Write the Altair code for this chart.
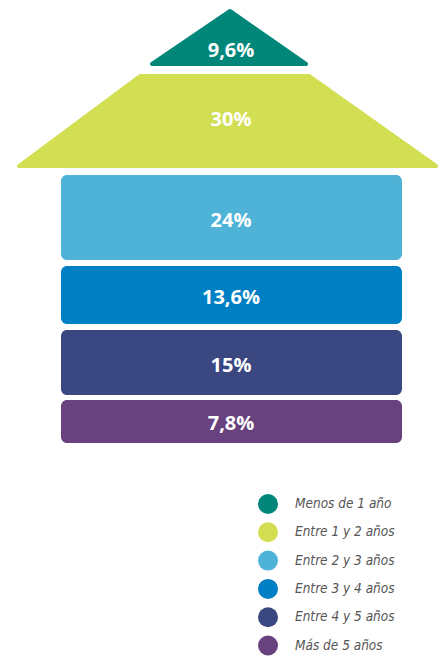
import altair as alt
import pandas as pd

# ---- data ----
categories = ["Menos de 1 año", "Entre 1 y 2 años", "Entre 2 y 3 años",
              "Entre 3 y 4 años", "Entre 4 y 5 años", "Más de 5 años"]
values = [9.6, 30, 24, 13.6, 15, 7.8]
value_labels = ["9,6%", "30%", "24%", "13,6%", "15%", "7,8%"]
colors = ["#00877A", "#D3DF52", "#4FB3D8", "#0080C4", "#3A4780", "#68427E"]

# house diagram outline (diagram units)
peak_x = [152, 230, 306]
peak_y = [64, 11, 64]
roof_x = [19, 140, 309, 436]
roof_y = [166, 76, 76, 166]
block_top = [175, 266, 330, 400]
block_bottom = [260, 324, 395, 443]
block_left = 61
block_right = 402
label_y = [50, 119, 220, 297, 365, 423]
center_x = 231

# ---- tables ----
poly_rows = []
for x, y in zip(peak_x, peak_y):
    poly_rows.append({"cat": categories[0], "x": x, "y": y, "y2": max(peak_y)})
for x, y in zip(roof_x, roof_y):
    poly_rows.append({"cat": categories[1], "x": x, "y": y, "y2": max(roof_y)})
polys = pd.DataFrame(poly_rows)

blocks = pd.DataFrame({
    "cat": categories[2:],
    "x": [block_left] * 4,
    "x2": [block_right] * 4,
    "y": block_top,
    "y2": block_bottom,
})

labels = pd.DataFrame({"cat": categories, "label": value_labels,
                       "x": [center_x] * 6, "y": label_y, "v": values})

xs = alt.Scale(domain=[8, 438], nice=False, zero=False)
ys = alt.Scale(domain=[8, 656], nice=False, zero=False, reverse=True)
cs = alt.Scale(domain=categories, range=colors)

legend = alt.Legend(
    title=None, orient="none", legendX=250, legendY=486, direction="vertical",
    symbolType="circle", symbolSize=400, symbolStrokeWidth=0, symbolOpacity=1,
    labelFont="DejaVu Sans Condensed", labelFontStyle="italic",
    labelFontSize=13.5, labelColor="#555555",
    labelOffset=17, rowPadding=8.3, padding=0, labelLimit=300,
)

roof = alt.Chart(polys).mark_area(
    strokeWidth=4, strokeJoin="round", interpolate="linear"
).encode(
    x=alt.X("x:Q", scale=xs, axis=None),
    y=alt.Y("y:Q", scale=ys, axis=None),
    y2="y2:Q",
    detail="cat:N",
    color=alt.Color("cat:N", scale=cs, sort=categories, legend=legend),
    stroke=alt.Stroke("cat:N", scale=cs, legend=None),
)

rects = alt.Chart(blocks).mark_rect(cornerRadius=6).encode(
    x=alt.X("x:Q", scale=xs, axis=None),
    x2="x2:Q",
    y=alt.Y("y:Q", scale=ys, axis=None),
    y2="y2:Q",
    color=alt.Color("cat:N", scale=cs, sort=categories, legend=legend),
)

text = alt.Chart(labels).mark_text(
    font="Open Sans", fontWeight="bold", fontSize=20, color="white",
    align="center", baseline="middle", dy=1
).encode(
    x=alt.X("x:Q", scale=xs, axis=None),
    y=alt.Y("y:Q", scale=ys, axis=None),
    text="label:N",
)

chart = alt.layer(roof, rects, text).properties(
    width=430, height=648, autosize=alt.AutoSizeParams(type="none"), padding=0,
    background="white"
).configure_view(stroke=None)

chart.save("out.html", embed_options={"renderer": "svg", "actions": False})
